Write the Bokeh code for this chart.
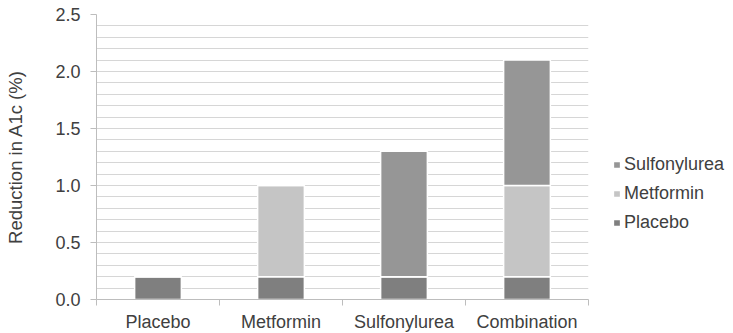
import numpy as np
from bokeh.plotting import figure
from bokeh.models import (ColumnDataSource, FixedTicker, Legend, LegendItem,
                          Range1d, NumeralTickFormatter)
from bokeh.embed import file_html
from bokeh.resources import INLINE

# Reduction in A1c (%) by treatment arm, split by contributing component
categories = ["Placebo", "Metformin", "Sulfonylurea", "Combination"]
placebo = [0.2, 0.2, 0.2, 0.2]
metformin = [0.0, 0.8, 0.0, 0.8]
sulfonylurea = [0.0, 0.0, 1.1, 1.1]
y_ticks = [0.0, 0.5, 1.0, 1.5, 2.0, 2.5]

series = ["placebo", "metformin", "sulfonylurea"]
colors = ["#7f7f7f", "#c5c5c5", "#969696"]

xs = [i + 0.5 for i in range(len(categories))]
source = ColumnDataSource(dict(x=xs, placebo=placebo, metformin=metformin,
                               sulfonylurea=sulfonylurea))

FONT = "Liberation Sans"
TXT = "#404040"

p = figure(frame_width=492, frame_height=285, output_backend="svg",
           toolbar_location=None,
           x_range=Range1d(0, len(categories)), y_range=Range1d(0, 2.5),
           min_border_left=96, min_border_right=145, min_border_top=14,
           min_border_bottom=34)
p.outline_line_color = None
p.background_fill_color = "white"
p.border_fill_color = "white"

renderers = p.vbar_stack(series, x="x", width=0.38, source=source,
                         color=colors, line_color="white", line_width=1.5)

# horizontal gridlines every 0.1
p.xgrid.visible = False
p.ygrid.ticker = FixedTicker(ticks=list(np.round(np.arange(0, 2.51, 0.1), 2)))
p.ygrid.grid_line_color = "#d6d6d6"
p.ygrid.grid_line_width = 1

# y axis
p.yaxis.ticker = FixedTicker(ticks=y_ticks)
p.yaxis.formatter = NumeralTickFormatter(format="0.0")
p.yaxis.axis_line_color = "#bdbdbd"
p.yaxis.major_tick_line_color = "#bdbdbd"
p.yaxis.major_tick_out = 6
p.yaxis.major_tick_in = 0
p.yaxis.minor_tick_line_color = None
p.yaxis.major_label_text_font = FONT
p.yaxis.major_label_text_font_size = "18px"
p.yaxis.major_label_text_color = TXT
p.yaxis.major_label_standoff = 10
p.yaxis.axis_label = "Reduction in A1c (%)"
p.yaxis.axis_label_text_font = FONT
p.yaxis.axis_label_text_font_size = "18.5px"
p.yaxis.axis_label_text_font_style = "normal"
p.yaxis.axis_label_text_color = TXT
p.yaxis.axis_label_standoff = 26

# x axis: labels at category centres, tick marks at category boundaries
p.xaxis.ticker = FixedTicker(ticks=xs, minor_ticks=list(range(len(categories) + 1)))
p.xaxis.major_label_overrides = {x: c for x, c in zip(xs, categories)}
p.xaxis.axis_line_color = "#bdbdbd"
p.xaxis.major_tick_line_color = None
p.xaxis.minor_tick_line_color = "#bdbdbd"
p.xaxis.minor_tick_out = 6
p.xaxis.minor_tick_in = 0
p.xaxis.major_label_text_font = FONT
p.xaxis.major_label_text_font_size = "18px"
p.xaxis.major_label_text_color = TXT
p.xaxis.major_label_standoff = 6

# legend in the right-hand panel
names = ["Placebo", "Metformin", "Sulfonylurea"]
items = [LegendItem(label=n, renderers=[r]) for n, r in zip(names, renderers)][::-1]
legend = Legend(items=items, location=(24, 66), border_line_color=None,
                background_fill_alpha=0, glyph_width=9, glyph_height=9,
                label_standoff=3, spacing=8, label_text_font=FONT,
                label_text_font_size="18px", label_text_color=TXT,
                margin=0, padding=6)
p.add_layout(legend, "right")

open("out.html", "w").write(file_html(p, INLINE))
